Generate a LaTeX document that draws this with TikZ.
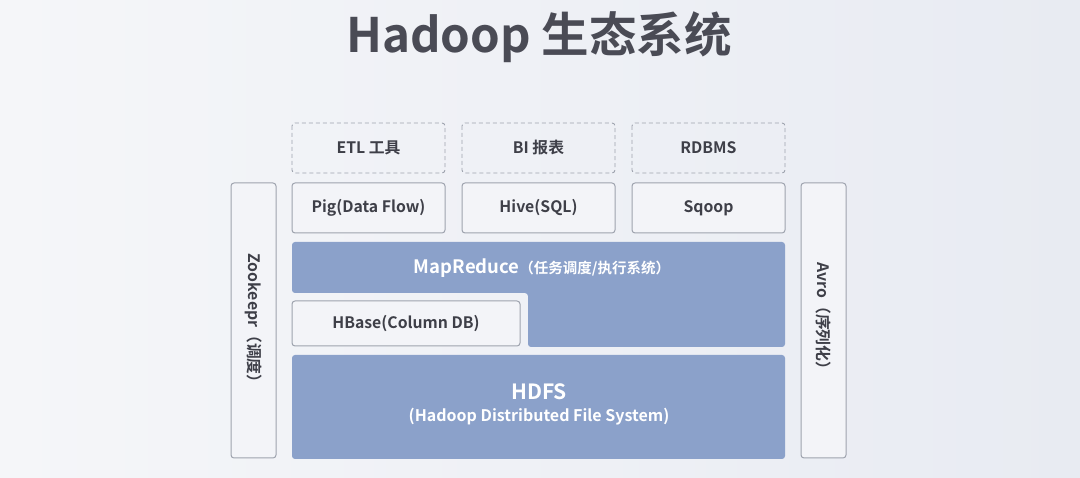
\documentclass[tikz,border=0pt]{standalone}
\usepackage{fontspec}
\setmainfont{Noto Sans CJK SC}[BoldFont={* Bold}]
\definecolor{bgA}{HTML}{F5F6F9}
\definecolor{bgB}{HTML}{E8EBF2}
\definecolor{blk}{HTML}{8BA1CA}
\definecolor{txt}{HTML}{3E3F48}
\definecolor{ttl}{HTML}{4A4B55}
\definecolor{edge}{HTML}{9EA3AE}
\definecolor{boxf}{HTML}{F3F4F8}
\begin{document}
\begin{tikzpicture}[x=1pt,y=-1pt,
  plain/.style={draw=edge,line width=1pt,fill=boxf,rounded corners=3pt},
  dbox/.style={draw=edge,line width=0.9pt,dash pattern=on 4pt off 3pt,rounded corners=3pt},
  btxt/.style={text=txt,font=\bfseries\fontsize{15.8}{19}\selectfont},
  blue/.style={fill=blk,rounded corners=3pt},
  lbl/.style={text=white,font=\bfseries}]
\useasboundingbox (0,0) rectangle (1080,478);
\shade[left color=bgA,right color=bgB] (0,0) rectangle (1080,478);
% title
\node[text=ttl,font=\bfseries\fontsize{47.5}{52}\selectfont] (title) at (539,37) {Hadoop 生态系统};
% dashed row
\draw[dbox] (292,123) rectangle (445,173); \node[btxt] (etl) at (368.5,148) {ETL 工具};
\draw[dbox] (462,123) rectangle (615,173); \node[btxt] (bi) at (538.5,148) {BI 报表};
\draw[dbox] (632,123) rectangle (785,173); \node[btxt] (rdb) at (708.5,148) {RDBMS};
% second row
\draw[plain] (292,183) rectangle (445,233); \node[btxt] (pig) at (368.5,208) {Pig(Data Flow)};
\draw[plain] (462,183) rectangle (615,233); \node[btxt] (hive) at (538.5,208) {Hive(SQL)};
\draw[plain] (632,183) rectangle (785,233); \node[btxt] (sqoop) at (708.5,208) {Sqoop};
% side bars
\draw[plain] (231,183) rectangle (276,458);
\node[btxt,rotate=-90] (zk) at (253.5,322) {Zookeepr（调度）};
\draw[plain] (801,183) rectangle (846,458);
\node[btxt,rotate=-90] (avro) at (823.5,320) {Avro（序列化）};
% MapReduce L-shape
\fill[blue] (292,242) -- (785,242) -- (785,347) -- (528,347) -- (528,293) -- (292,293) -- cycle;
\node[lbl] (mr) at (542,268) {{\fontsize{18.5}{22}\selectfont MapReduce}{\fontsize{14.5}{17}\selectfont（任务调度/执行系统）}};
% HBase
\draw[plain] (292,301) rectangle (520,346); \node[btxt] (hb) at (406,323.5) {HBase(Column DB)};
% HDFS
\fill[blue] (292,355) rectangle (785,459);
\node[lbl,font=\bfseries\fontsize{21}{25}\selectfont] (hdfs) at (539,392) {HDFS};
\node[lbl,font=\bfseries\fontsize{16}{19}\selectfont] (hdfs2) at (539,417) {(Hadoop Distributed File System)};
\end{tikzpicture}
\end{document}
